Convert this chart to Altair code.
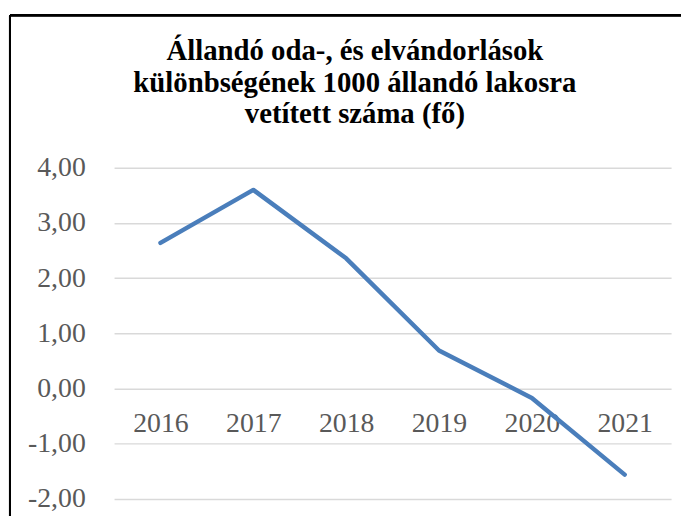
import altair as alt
import pandas as pd

years = ["2016", "2017", "2018", "2019", "2020", "2021"]
values = [2.64, 3.60, 2.36, 0.69, -0.17, -1.56]
y_ticks = [-2, -1, 0, 1, 2, 3, 4]
title_lines = ["Állandó oda-, és elvándorlások",
               "különbségének 1000 állandó lakosra",
               "vetített száma (fő)"]

df = pd.DataFrame({"year": years, "value": values})

W, H = 562, 334
FONT = "Liberation Serif"

line = alt.Chart(df).mark_line(
    color="#4A7EBB", strokeWidth=4.5, strokeCap="round", strokeJoin="round"
).encode(
    x=alt.X("year:N", sort=years, title=None,
            scale=alt.Scale(type="point", padding=0.5),
            axis=alt.Axis(orient="bottom", offset=-111, domain=False, ticks=False,
                          grid=False, labelAngle=0, labelFont=FONT, labelFontSize=28,
                          labelColor="#595959", labelPadding=21, labelBaseline="top")),
    y=alt.Y("value:Q", title=None,
            scale=alt.Scale(domain=[-2, 4], nice=False, zero=False),
            axis=alt.Axis(values=y_ticks, domain=False, ticks=False,
                          gridColor="#D9D9D9", gridWidth=1.5,
                          labelFont=FONT, labelFontSize=28, labelColor="#595959",
                          labelPadding=29,
                          labelExpr="replace(replace(format(datum.value, '.2f'), '.', ','), '\u2212', '-')")),
)

border_left = alt.Chart(df).mark_rule(color="#000000", strokeWidth=2).encode(
    x=alt.value(-105), y=alt.value(-154), y2=alt.value(H + 40)
)
border_top = alt.Chart(df).mark_rule(color="#000000", strokeWidth=2).encode(
    x=alt.value(-105), x2=alt.value(W + 30), y=alt.value(-154)
)

chart = alt.layer(line, border_left, border_top).properties(
    width=W, height=H,
    background="white",
    autosize=alt.AutoSizeParams(type="none"),
    padding={"left": 107, "top": 159, "right": 10, "bottom": 15},
    title=alt.TitleParams(text=title_lines, font=FONT, fontSize=29, fontWeight="bold",
                          color="#000000", anchor="middle", dx=-38, offset=-116,
                          lineHeight=31.7),
).configure_view(strokeWidth=0, stroke="transparent").configure_title(
    font=FONT, fontSize=29, fontWeight="bold", color="#000000"
)

chart.save("out.html", embed_options={"renderer": "svg", "actions": False})
